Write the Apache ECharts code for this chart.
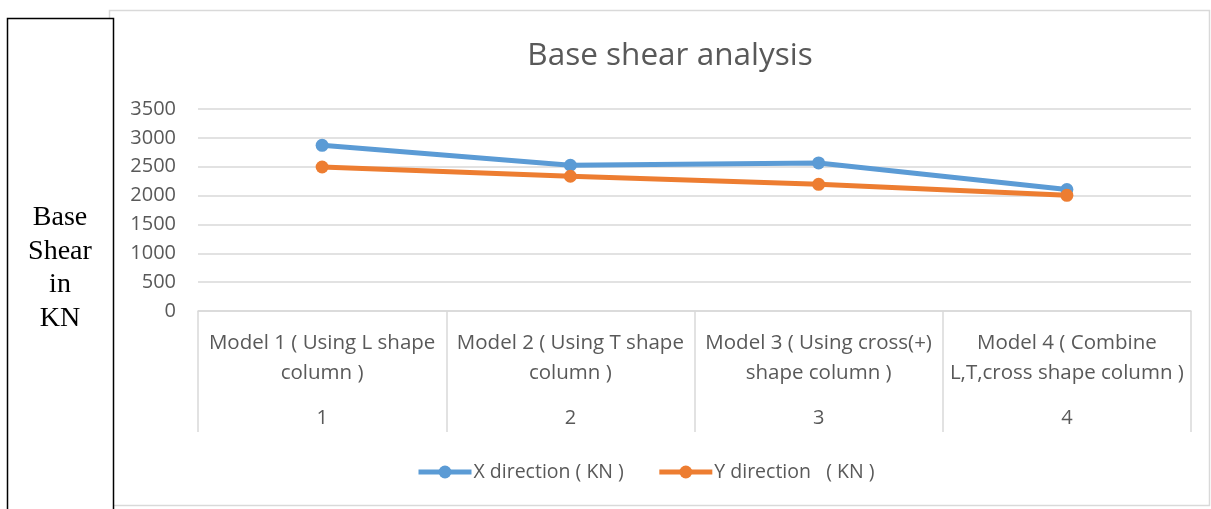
<!DOCTYPE html>
<html>
<head>
<meta charset="utf-8">
<script src="https://cdn.jsdelivr.net/npm/echarts@6/dist/echarts.min.js"></script>
<style>
html,body{margin:0;padding:0;background:#fff;}
#chart{width:1211px;height:509px;}
</style>
</head>
<body>
<div id="chart"></div>
<script>
const titleText = 'Base shear analysis';
const yAxisTitle = 'Base\nShear\nin\nKN';
const categories = [
  'Model 1 ( Using L shape\ncolumn )',
  'Model 2 ( Using T shape\ncolumn )',
  'Model 3 ( Using cross(+)\nshape column )',
  'Model 4 ( Combine\nL,T,cross shape column )'
];
const categoryNumbers = ['1', '2', '3', '4'];
const seriesNames = ['X direction ( KN )', 'Y direction   ( KN )'];
const xDirection = [2870, 2525, 2565, 2105];
const yDirection = [2495, 2335, 2195, 2005];
const yTicks = { min: 0, max: 3500, interval: 500 };

const chart = echarts.init(document.getElementById('chart'));
const FONT = '"Open Sans", sans-serif';
chart.setOption({
  animation: false,
  backgroundColor: '#fff',
  title: {
    text: titleText,
    left: 665, top: 35, textAlign: 'center',
    textStyle: { fontFamily: FONT, fontSize: 31.5, fontWeight: 'normal', color: '#595959' }
  },
  graphic: [
    { type: 'rect', z: -1, shape: { x: 109.5, y: 10.5, width: 1100, height: 495 },
      style: { fill: '#fff', stroke: '#d9d9d9', lineWidth: 1.5 } },
    { type: 'rect', z: 100, shape: { x: 7.5, y: 18.5, width: 106, height: 500 },
      style: { fill: '#fff', stroke: '#000', lineWidth: 1.5 } },
    { type: 'text', z: 101, x: 60, y: 201,
      style: { text: yAxisTitle, fontFamily: '"Liberation Serif", serif', fontSize: 28,
               lineHeight: 33.5, fill: '#000', align: 'center', verticalAlign: 'top' } }
  ],
  legend: {
    bottom: 22, left: 411,
    itemWidth: 53, itemHeight: 16, itemGap: 33,
    lineStyle: { width: 5 },
    textStyle: { fontFamily: FONT, fontSize: 19.5, color: '#595959', padding: [0, 0, 0, -3] },
    data: seriesNames
  },
  grid: { left: 198, right: 20, top: 109, bottom: 198, containLabel: false },
  xAxis: {
    type: 'category',
    data: categories,
    boundaryGap: true,
    axisLine: { lineStyle: { color: '#d9d9d9', width: 1.5 } },
    axisTick: { show: true, length: 121, interval: 0, lineStyle: { color: '#d9d9d9', width: 1.5 } },
    axisLabel: {
      interval: 0, margin: 17,
      formatter: function (v, i) {
        const lines = v.split('\n').map(s => '{t|' + s + '}').join('\n');
        return lines + '\n{n|' + categoryNumbers[i] + '}';
      },
      rich: {
        t: { fontFamily: FONT, fontSize: 20.5, color: '#595959', lineHeight: 30, align: 'center' },
        n: { fontFamily: FONT, fontSize: 20, color: '#595959', lineHeight: 60, align: 'center' }
      }
    }
  },
  yAxis: {
    type: 'value',
    min: yTicks.min, max: yTicks.max, interval: yTicks.interval,
    axisLine: { show: false },
    axisTick: { show: false },
    splitLine: { lineStyle: { color: '#d9d9d9', width: 1.5 } },
    axisLabel: { margin: 22, fontFamily: FONT, fontSize: 20, color: '#595959',
                 formatter: function (v) { return String(v); } }
  },
  series: [
    { name: seriesNames[0], type: 'line', data: xDirection, symbol: 'circle', symbolSize: 13,
      itemStyle: { color: '#5B9BD5' }, lineStyle: { color: '#5B9BD5', width: 5 } },
    { name: seriesNames[1], type: 'line', data: yDirection, symbol: 'circle', symbolSize: 13,
      itemStyle: { color: '#ED7D31' }, lineStyle: { color: '#ED7D31', width: 5 } }
  ]
});
</script>
</body>
</html>
